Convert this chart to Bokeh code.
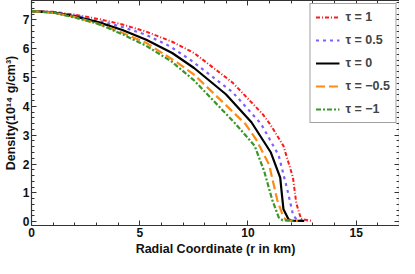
from bokeh.plotting import figure
from bokeh.models import Range1d, LinearAxis, Legend, LegendItem, SingleIntervalTicker, CustomJSTickFormatter
from bokeh.embed import file_html
from bokeh.resources import INLINE

# --- data ---
r_p1 = [0, 1, 2, 3.08, 4.2, 5.3, 6.5, 7.51, 9.28, 10.68, 11.05, 11.64, 12.08, 12.23, 12.45, 12.95]
rho_p1 = [7.3, 7.28, 7.18, 7.03, 6.84, 6.59, 6.24, 5.85, 4.83, 3.73, 3.35, 2.63, 1.53, 0.65, 0.1, 0.03]

r_p05 = [0, 1, 2, 3.08, 4.2, 5.3, 6.4, 7.36, 9.28, 10.6, 11.42, 11.86, 12.09, 12.3, 12.75]
rho_p05 = [7.3, 7.27, 7.15, 6.97, 6.75, 6.48, 6.08, 5.6, 4.5, 3.4, 2.3, 0.98, 0.21, 0.05, 0.03]

r_0 = [0, 1, 2, 3.08, 4.2, 5.3, 6.5, 7.51, 8.98, 10.16, 11.05, 11.49, 11.56, 11.64, 11.86, 12.0, 12.6]
rho_0 = [7.3, 7.26, 7.12, 6.92, 6.65, 6.31, 5.85, 5.33, 4.42, 3.45, 2.41, 1.53, 1.0, 0.43, 0.1, 0.04, 0.03]

r_m05 = [0, 1, 2, 3.08, 4.2, 5.3, 6.77, 7.51, 9.87, 10.38, 10.98, 11.35, 11.64, 11.8, 12.3]
rho_m05 = [7.3, 7.25, 7.1, 6.86, 6.55, 6.2, 5.5, 5.1, 3.4, 2.85, 1.97, 0.76, 0.15, 0.05, 0.03]

r_m1 = [0, 1, 2, 3.08, 4.2, 5.3, 6.48, 7.51, 9.42, 10.31, 10.75, 11.12, 11.42, 11.6, 12.1]
rho_m1 = [7.3, 7.25, 7.08, 6.86, 6.5, 6.1, 5.55, 4.9, 3.4, 2.63, 1.75, 0.76, 0.15, 0.05, 0.03]

labels = ["τ = 1", "τ = 0.5", "τ = 0", "τ = −0.5", "τ = −1"]

FONT = "Liberation Sans"
AX = "#333333"

p = figure(width=399, height=258, output_backend="svg", toolbar_location=None,
           x_range=Range1d(0, 17), y_range=Range1d(-0.13, 7.67),
           min_border_left=0, min_border_right=0, min_border_top=0, min_border_bottom=0)
p.background_fill_color = "white"
p.border_fill_color = "white"
p.outline_line_color = None
p.xgrid.visible = False
p.ygrid.visible = False

def style_axis(ax, labelled=True):
    ax.axis_line_color = AX
    ax.axis_line_width = 1.2
    ax.major_tick_line_color = AX
    ax.minor_tick_line_color = AX
    ax.major_tick_in = 5
    ax.major_tick_out = 0
    ax.minor_tick_in = 3
    ax.minor_tick_out = 0
    ax.major_label_text_font = FONT
    ax.major_label_text_font_style = "bold"
    ax.major_label_text_font_size = "12px"
    ax.major_label_text_color = "#111111"
    ax.major_label_standoff = 2
    ax.axis_label_text_font = FONT
    ax.axis_label_text_font_style = "bold"
    ax.axis_label_text_font_size = "12.5px"
    ax.axis_label_text_color = "#111111"
    ax.axis_label_standoff = 2
    if not labelled:
        ax.major_label_standoff = 0
        ax.major_label_text_font_size = "0px"
        ax.formatter = CustomJSTickFormatter(code="return ''")

p.xaxis.ticker = SingleIntervalTicker(interval=5, num_minor_ticks=5)
p.yaxis.ticker = SingleIntervalTicker(interval=1, num_minor_ticks=5)
style_axis(p.xaxis[0])
style_axis(p.yaxis[0])
p.xaxis.axis_label = "Radial Coordinate (r in km)"
p.yaxis.axis_label = "Density(10¹⁴ g/cm³)"

top = LinearAxis(ticker=SingleIntervalTicker(interval=5, num_minor_ticks=5))
style_axis(top, labelled=False)
p.add_layout(top, "above")
right = LinearAxis(ticker=SingleIntervalTicker(interval=1, num_minor_ticks=5))
style_axis(right, labelled=False)
p.add_layout(right, "right")

series = [
    (r_p1, rho_p1, "#FF1A1A", "4 2 1 2", 2.0),
    (r_p05, rho_p05, "#7F5FFF", "3 4", 2.2),
    (r_0, rho_0, "#000000", "solid", 2.2),
    (r_m05, rho_m05, "#FF8A14", "9 4", 2.2),
    (r_m1, rho_m1, "#3A962A", "5 2 2 2", 2.2),
]

items = []
for (xs, ys, col, dash, w), lab in zip(series, labels):
    rr = p.line(xs, ys, line_color=col, line_dash=dash, line_width=w)
    items.append(LegendItem(label=lab, renderers=[rr]))

leg = Legend(items=items, location="top_right")
leg.margin = 3
leg.padding = 5
leg.spacing = 7
leg.label_height = 16
leg.glyph_height = 16
leg.glyph_width = 24
leg.label_standoff = 6
leg.label_text_font = FONT
leg.label_text_font_style = "bold"
leg.label_text_font_size = "12.5px"
leg.border_line_color = "#444444"
leg.border_line_width = 1
leg.background_fill_alpha = 1
p.add_layout(leg, "center")

open("out.html", "w").write(file_html(p, INLINE))
